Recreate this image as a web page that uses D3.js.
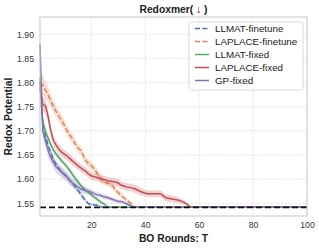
<!DOCTYPE html>
<html>
<head>
<meta charset="utf-8">
<script src="https://cdn.jsdelivr.net/npm/d3@7"></script>
<style>
  html, body { margin: 0; padding: 0; background: #fff; }
  svg { display: block; font-family: "Liberation Sans", Arial, sans-serif; }
</style>
</head>
<body>
<svg id="chart" width="319" height="248"></svg>
<script>
// best-so-far means per BO round (round 1, 2, ...) and band half-widths
const optimum = 1.5417;

const llmatFinetune = [1.79, 1.72, 1.69, 1.67, 1.655, 1.640, 1.630, 1.622, 1.615, 1.610,
  1.605, 1.598, 1.592, 1.585, 1.577, 1.570, 1.562, 1.555, 1.549, 1.547,
  1.547, 1.546, 1.545, 1.5417];
const llmatFinetuneErr = [0.012, 0.010, 0.008, 0.007, 0.007, 0.006, 0.006, 0.006, 0.006, 0.006,
  0.006, 0.006, 0.006, 0.006, 0.006, 0.005, 0.005, 0.004, 0.003, 0.003,
  0.002, 0.002, 0.002, 0];

const laplaceFinetune = [1.80, 1.795, 1.785, 1.775, 1.762, 1.750, 1.740, 1.730, 1.722, 1.712,
  1.700, 1.692, 1.684, 1.674, 1.665, 1.660, 1.650, 1.638, 1.632, 1.628,
  1.622, 1.614, 1.606, 1.598, 1.594, 1.592, 1.590, 1.585, 1.578, 1.572,
  1.567, 1.562, 1.557, 1.553, 1.549, 1.5417];
const laplaceFinetuneErr = [0.020, 0.020, 0.018, 0.016, 0.014, 0.013, 0.012, 0.012, 0.012, 0.011,
  0.011, 0.010, 0.010, 0.010, 0.009, 0.009, 0.009, 0.008, 0.008, 0.008,
  0.008, 0.008, 0.008, 0.008, 0.007, 0.007, 0.007, 0.007, 0.007, 0.006,
  0.006, 0.005, 0.004, 0.004, 0.003, 0];

const llmatFixed = [1.81, 1.72, 1.70, 1.685, 1.672, 1.660, 1.652, 1.645, 1.638, 1.632,
  1.626, 1.618, 1.610, 1.602, 1.595, 1.588, 1.582, 1.577, 1.572, 1.568,
  1.563, 1.559, 1.555, 1.551, 1.548, 1.5417];
const llmatFixedErr = [0.010, 0.008, 0.007, 0.006, 0.006, 0.006, 0.006, 0.006, 0.006, 0.006,
  0.006, 0.006, 0.006, 0.006, 0.006, 0.005, 0.005, 0.005, 0.005, 0.005,
  0.004, 0.004, 0.004, 0.003, 0.003, 0];

const laplaceFixed = [1.80, 1.755, 1.752, 1.730, 1.700, 1.680, 1.670, 1.662, 1.656, 1.652,
  1.648, 1.643, 1.638, 1.633, 1.628, 1.624, 1.620, 1.616, 1.611, 1.607,
  1.605, 1.604, 1.602, 1.600, 1.599, 1.597, 1.596, 1.595, 1.594, 1.592,
  1.588, 1.586, 1.584, 1.583, 1.582, 1.580, 1.578, 1.575, 1.573, 1.571,
  1.570, 1.570, 1.570, 1.570, 1.570, 1.569, 1.564, 1.561, 1.560, 1.559,
  1.558, 1.557, 1.555, 1.553, 1.550, 1.546, 1.5417];
const laplaceFixedErr = [0.012, 0.016, 0.015, 0.014, 0.012, 0.010, 0.010, 0.009, 0.009, 0.009,
  0.009, 0.009, 0.009, 0.009, 0.008, 0.008, 0.008, 0.008, 0.008, 0.008,
  0.008, 0.008, 0.008, 0.008, 0.008, 0.008, 0.008, 0.008, 0.008, 0.008,
  0.008, 0.008, 0.008, 0.008, 0.008, 0.008, 0.008, 0.008, 0.007, 0.007,
  0.007, 0.007, 0.007, 0.007, 0.007, 0.007, 0.007, 0.007, 0.007, 0.007,
  0.007, 0.006, 0.006, 0.005, 0.004, 0.003, 0];

const gpFixed = [1.880, 1.700, 1.680, 1.660, 1.645, 1.635, 1.625, 1.620, 1.615, 1.610,
  1.605, 1.598, 1.592, 1.588, 1.584, 1.580, 1.578, 1.576, 1.575, 1.573,
  1.570, 1.568, 1.567, 1.565, 1.563, 1.562, 1.560, 1.558, 1.556, 1.554,
  1.554, 1.552, 1.549, 1.547, 1.544, 1.5417];
const gpFixedErr = [0.004, 0.014, 0.014, 0.013, 0.013, 0.012, 0.012, 0.012, 0.011, 0.011,
  0.010, 0.010, 0.009, 0.009, 0.008, 0.008, 0.007, 0.007, 0.006, 0.006,
  0.006, 0.006, 0.005, 0.005, 0.005, 0.005, 0.004, 0.004, 0.004, 0.004,
  0.004, 0.003, 0.003, 0.003, 0.002, 0];

const xTicks = [20, 40, 60, 80, 100];
const yTicks = [1.55, 1.60, 1.65, 1.70, 1.75, 1.80, 1.85, 1.90];

const series = [
  { name: 'LLMAT-finetune', mean: llmatFinetune, err: llmatFinetuneErr, color: '#4c72b0', dash: '5,2.5' },
  { name: 'LAPLACE-finetune', mean: laplaceFinetune, err: laplaceFinetuneErr, color: '#dd8452', dash: '5,2.5' },
  { name: 'LLMAT-fixed', mean: llmatFixed, err: llmatFixedErr, color: '#55a868', dash: null },
  { name: 'LAPLACE-fixed', mean: laplaceFixed, err: laplaceFixedErr, color: '#c44e52', dash: null },
  { name: 'GP-fixed', mean: gpFixed, err: gpFixedErr, color: '#8172b3', dash: null },
];

const svg = d3.select('#chart');
const plot = { left: 40, right: 307, top: 17, bottom: 216 };

const x = d3.scaleLinear().domain([1, 100]).range([plot.left, plot.right]);
const y = d3.scaleLinear().domain([1.5237, 1.936]).range([plot.bottom, plot.top]);

// grid
const grid = svg.append('g');
grid.selectAll('line.gx')
  .data(xTicks)
  .enter()
  .append('line')
  .attr('x1', d => x(d)).attr('x2', d => x(d))
  .attr('y1', plot.top).attr('y2', plot.bottom)
  .style('stroke', '#dcdcdc')
  .style('stroke-width', 0.8)
  .style('stroke-dasharray', '2,1.5');
grid.selectAll('line.gy')
  .data(yTicks)
  .enter()
  .append('line')
  .attr('x1', plot.left).attr('x2', plot.right)
  .attr('y1', d => y(d)).attr('y2', d => y(d))
  .style('stroke', '#dcdcdc')
  .style('stroke-width', 0.8)
  .style('stroke-dasharray', '2,1.5');

// axes (labels only)
const xAxis = svg.append('g')
  .attr('transform', `translate(0,${plot.bottom})`)
  .call(d3.axisBottom(x).tickValues(xTicks).tickSize(0).tickPadding(6));
const yAxis = svg.append('g')
  .attr('transform', `translate(${plot.left},0)`)
  .call(d3.axisLeft(y).tickValues(yTicks).tickSize(0).tickPadding(6).tickFormat(d3.format('.2f')));
[xAxis, yAxis].forEach((ax) => {
  ax.select('.domain').remove();
  ax.selectAll('text')
    .style('font-size', '8.7px')
    .style('fill', '#333')
    .style('font-family', '"Liberation Sans", Arial, sans-serif');
});

// bands and lines
const area = d3.area()
  .x(d => x(d.t))
  .y0(d => y(d.v - d.e))
  .y1(d => y(d.v + d.e));
const line = d3.line()
  .x(d => x(d.t))
  .y(d => y(d.v));

series.forEach((s) => {
  const pts = s.mean.map((v, i) => ({ t: i + 1, v, e: s.err[i] }));
  const last = pts[pts.length - 1];
  // best value is held for the remaining rounds
  if (last.t < 100) pts.push({ t: 100, v: last.v, e: 0 });

  svg.append('path')
    .datum(pts)
    .attr('d', area)
    .style('fill', s.color)
    .style('fill-opacity', 0.25)
    .style('stroke', 'none');
  svg.append('path')
    .datum(pts)
    .attr('d', line)
    .style('fill', 'none')
    .style('stroke', s.color)
    .style('stroke-width', 1.5)
    .style('stroke-dasharray', s.dash);
});

// optimum line
svg.append('line')
  .attr('x1', plot.left).attr('x2', plot.right)
  .attr('y1', y(optimum)).attr('y2', y(optimum))
  .style('stroke', '#111')
  .style('stroke-width', 1.8)
  .style('stroke-dasharray', '6,3');

// frame
svg.append('rect')
  .attr('x', plot.left).attr('y', plot.top)
  .attr('width', plot.right - plot.left)
  .attr('height', plot.bottom - plot.top)
  .style('fill', 'none')
  .style('stroke', '#c8c8c8')
  .style('stroke-width', 1);

// titles
svg.append('text')
  .attr('x', (plot.left + plot.right) / 2)
  .attr('y', 12.5)
  .attr('text-anchor', 'middle')
  .style('font-size', '10.3px')
  .style('font-weight', 'bold')
  .style('fill', '#222')
  .text('Redoxmer( ↓ )');
svg.append('text')
  .attr('x', (plot.left + plot.right) / 2)
  .attr('y', 242)
  .attr('text-anchor', 'middle')
  .style('font-size', '10.3px')
  .style('font-weight', 'bold')
  .style('fill', '#222')
  .text('BO Rounds: T');
svg.append('text')
  .attr('transform', `translate(12,${(plot.top + plot.bottom) / 2}) rotate(-90)`)
  .attr('text-anchor', 'middle')
  .style('font-size', '10.3px')
  .style('font-weight', 'bold')
  .style('fill', '#222')
  .text('Redox Potential');

// legend
const legend = svg.append('g').attr('transform', 'translate(189,22)');
legend.append('rect')
  .attr('width', 114).attr('height', 68)
  .attr('rx', 2)
  .style('fill', '#fff')
  .style('fill-opacity', 0.85)
  .style('stroke', '#d0d0d0')
  .style('stroke-width', 0.8);
const item = legend.selectAll('g.item')
  .data(series)
  .enter()
  .append('g')
  .attr('transform', (d, i) => `translate(0,${6.5 + i * 13})`);
item.append('line')
  .attr('x1', 6).attr('x2', 20)
  .style('stroke', d => d.color)
  .style('stroke-width', 1.5)
  .style('stroke-dasharray', d => d.dash);
item.append('text')
  .attr('x', 26)
  .attr('dy', '0.35em')
  .style('font-size', '9.8px')
  .style('fill', '#222')
  .text(d => d.name);
</script>
</body>
</html>
